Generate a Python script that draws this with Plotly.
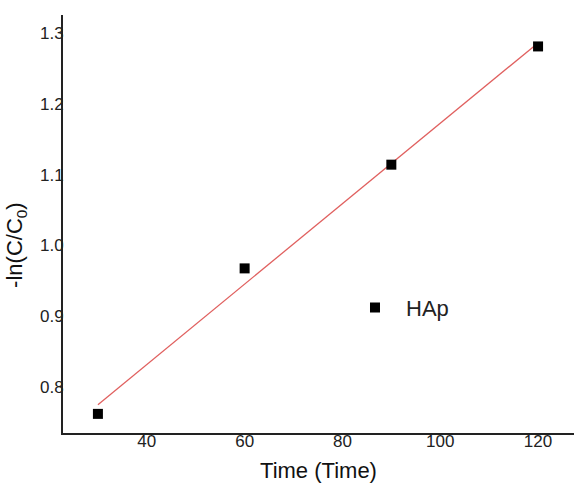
import plotly.graph_objects as go

# Data
time_min = [30, 60, 90, 120]
neg_ln_c = [0.762, 0.9675, 1.114, 1.281]
fit_x = [30, 120]
fit_y = [0.775, 1.286]
series_name = "HAp"
x_ticks = [40, 60, 80, 100, 120]
y_ticks = [0.8, 0.9, 1.0, 1.1, 1.2, 1.3]

FONT = "Arial, Liberation Sans, sans-serif"

fig = go.Figure()
fig.add_trace(go.Scatter(
    x=fit_x, y=fit_y, mode="lines",
    line=dict(color="#e0605f", width=1.3),
    showlegend=False, hoverinfo="skip",
))
fig.add_trace(go.Scatter(
    x=time_min, y=neg_ln_c, mode="markers", name=series_name,
    marker=dict(symbol="square", size=10, color="black",
                line=dict(width=0)),
))

fig.update_layout(
    width=574, height=484,
    margin=dict(l=63, r=0, t=15, b=51),
    paper_bgcolor="white", plot_bgcolor="white",
    font=dict(family=FONT, color="#222222"),
    showlegend=True,
    legend=dict(x=0.5499, y=0.30, xanchor="left", yanchor="middle",
                bgcolor="rgba(0,0,0,0)", font=dict(size=22, color="#222222"),
                itemwidth=52),
    xaxis=dict(
        range=[22.86, 127.35], tickvals=x_ticks,
        ticks="", showgrid=False, zeroline=False,
        showline=True, linecolor="#222222", linewidth=2,
        tickfont=dict(size=17, color="#222222"),
        ticklabelstandoff=-8,
        title=dict(text="Time (Time)", font=dict(size=22, color="#111111"),
                   standoff=12),
    ),
    yaxis=dict(
        range=[0.735, 1.3254], tickvals=y_ticks,
        tickformat=".1f",
        ticks="", showgrid=False, zeroline=False,
        showline=True, linecolor="#222222", linewidth=2,
        tickfont=dict(size=17, color="#222222"),
        ticklabelstandoff=-6,
    ),
    annotations=[dict(
        text="-ln(C/C<sub>0</sub>)", textangle=-90,
        xref="paper", yref="paper", x=-0.092, y=0.45,
        xanchor="center", yanchor="middle", showarrow=False,
        font=dict(size=22, color="#111111", family=FONT),
    )],
)

fig.write_html("out.html")
